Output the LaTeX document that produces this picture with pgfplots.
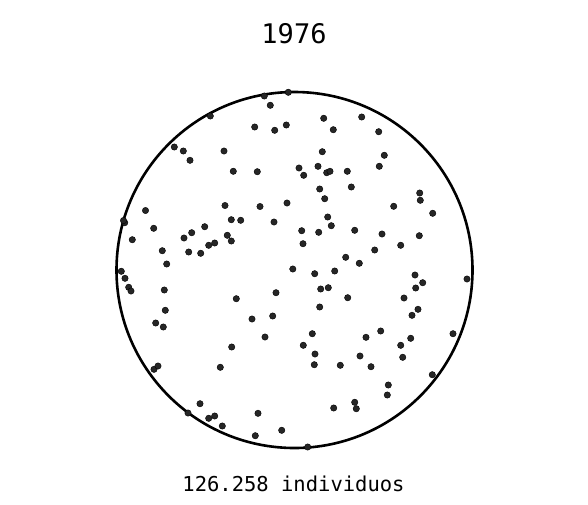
\documentclass[border=0pt]{standalone}
\usepackage{pgfplots}
\pgfplotsset{compat=1.18}
\usepackage{fontspec}
\setmainfont{DejaVu Sans Mono}
\begin{document}
\begin{tikzpicture}
\begin{axis}[
  hide axis, scale only axis,
  width=588pt, height=504pt,
  xmin=0, xmax=588, ymin=0, ymax=504,
  y dir=reverse, clip=false,
]
\path[draw=none, fill=none] (axis cs:0,0) rectangle (axis cs:588,504);
\draw[line width=2.6pt, black] (axis cs:294.5,270) circle[radius=178];
\addplot[only marks, mark=*, mark size=3.2pt, mark options={fill=black!85, draw=none}] coordinates {
(264.3,96) (288.3,92.3) (270.3,105.3) (210.3,116) (254.7,127) (274.7,130.3) (286.3,125)
(174.3,147) (183.3,151) (190,160.3) (224,151) (233.3,171.3) (257.3,171.7) (299,168)
(225,205.5) (260,206.5) (287,203) (145.5,210.5) (323.7,118.3) (361.7,117) (333.3,129.7)
(378.7,131.7) (322.3,151.7) (384.3,155.3) (303.7,175.3) (318,166.3) (326.7,172.7) (330,171.3)
(347.3,171.3) (379.3,166.3) (319.7,189) (351.3,187) (324.7,198.7) (419.7,193) (420.3,200.3)
(393.7,206.3) (124.7,222.7) (123.5,220.5) (153.7,228.3) (132.3,239.7) (231.3,219.7) (240.7,220.3)
(274,222) (204.7,226.7) (191.7,232.7) (184,238) (227.3,235.3) (231.3,241) (214.7,243)
(208.7,245.3) (188.7,252) (200.7,253.3) (162.3,250.7) (166.7,264) (121.3,271.3) (125,278.3)
(128.7,287.3) (131,291) (164.3,290) (292.8,269) (301.7,230.7) (236.3,298.7) (276,292.7)
(165.3,310.3) (155.7,323) (163.3,327) (252,319) (272.7,316) (432.7,213.3) (327.7,217)
(331.3,225.7) (318.7,232.3) (354.7,230.3) (382,234) (419.3,235.7) (303,243.7) (400.7,245.3)
(374.7,250) (345.7,257.3) (359.3,263.3) (314.7,273.7) (334.7,271) (415,275) (422.7,282.7)
(415.7,288) (467,279) (320.7,289) (328.3,287.7) (347.7,297.7) (404,298) (319.7,307)
(418,309.3) (412,315.3) (380.7,331) (265,337) (231.7,347) (220.3,367.3) (154,369.3)
(158,366) (200,403.7) (188,413) (208.7,418.3) (214.7,416) (222.3,426) (258,413.3)
(255.3,435.7) (281.7,430.3) (312.3,333.7) (303.3,345.3) (315,354) (314.3,364.7) (340.3,365.3)
(366,337.3) (360,356) (371,366.7) (400.7,345.3) (410.7,338.3) (402.7,357.3) (453,333.7)
(432.3,374.7) (388.3,385) (387.3,395) (354.7,402.3) (356.3,408.7) (333.7,408) (307.7,447)
};
\node[font=\fontsize{27}{31}\selectfont] at (axis cs:294,34) {1976};
\node[font=\fontsize{20.5}{24}\selectfont] at (axis cs:293.5,484) {126.258 individuos};
\end{axis}
\end{tikzpicture}
\end{document}
